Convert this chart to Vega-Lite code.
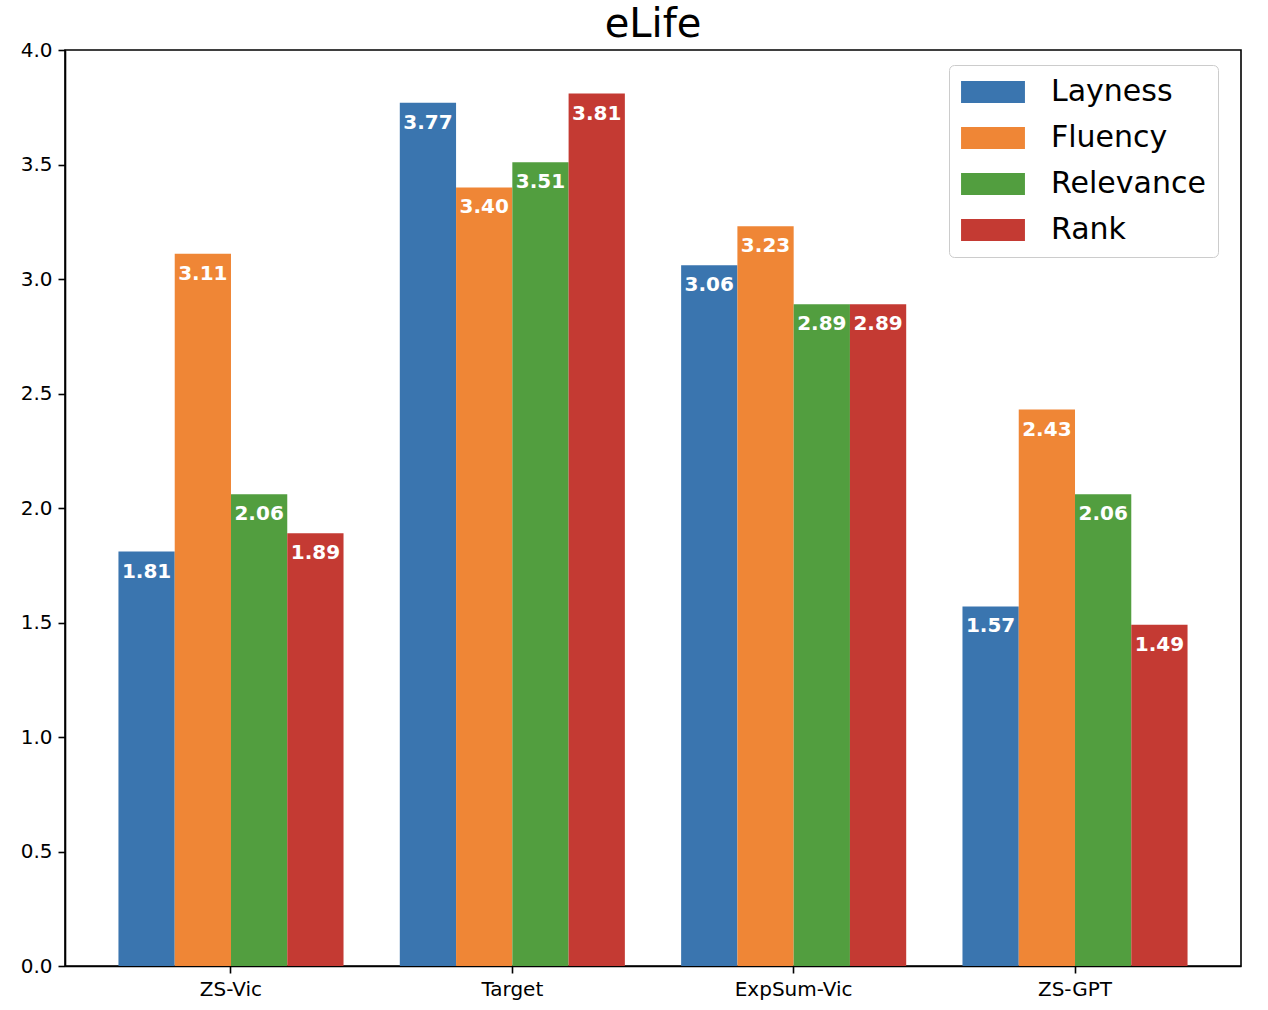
{
  "$schema": "https://vega.github.io/schema/vega-lite/v6.json",
  "autosize": "none",
  "width": 1176,
  "height": 916,
  "padding": {"left": 65, "top": 50, "right": 27, "bottom": 44},
  "background": "white",
  "title": {"text": "eLife", "fontSize": 40, "font": "DejaVu Sans", "fontWeight": "normal", "color": "black", "anchor": "middle", "offset": -5},
  "data": {
    "values": [
      {"model": "ZS-Vic", "metric": "Layness", "score": 1.81},
      {"model": "ZS-Vic", "metric": "Fluency", "score": 3.11},
      {"model": "ZS-Vic", "metric": "Relevance", "score": 2.06},
      {"model": "ZS-Vic", "metric": "Rank", "score": 1.89},
      {"model": "Target", "metric": "Layness", "score": 3.77},
      {"model": "Target", "metric": "Fluency", "score": 3.40},
      {"model": "Target", "metric": "Relevance", "score": 3.51},
      {"model": "Target", "metric": "Rank", "score": 3.81},
      {"model": "ExpSum-Vic", "metric": "Layness", "score": 3.06},
      {"model": "ExpSum-Vic", "metric": "Fluency", "score": 3.23},
      {"model": "ExpSum-Vic", "metric": "Relevance", "score": 2.89},
      {"model": "ExpSum-Vic", "metric": "Rank", "score": 2.89},
      {"model": "ZS-GPT", "metric": "Layness", "score": 1.57},
      {"model": "ZS-GPT", "metric": "Fluency", "score": 2.43},
      {"model": "ZS-GPT", "metric": "Relevance", "score": 2.06},
      {"model": "ZS-GPT", "metric": "Rank", "score": 1.49}
    ]
  },
  "encoding": {
    "x": {
      "field": "model", "type": "nominal", "sort": null, "title": null,
      "scale": {"paddingInner": 0.2, "paddingOuter": 0.19},
      "axis": {"labelAngle": 0, "labelFontSize": 20, "tickSize": 7, "tickWidth": 1.6, "labelPadding": 6, "domainWidth": 1.6}
    },
    "xOffset": {
      "field": "metric", "type": "nominal", "sort": ["Layness", "Fluency", "Relevance", "Rank"],
      "scale": {"paddingInner": 0, "paddingOuter": 0}
    },
    "y": {
      "field": "score", "type": "quantitative", "title": null,
      "scale": {"domain": [0, 4], "nice": false},
      "axis": {"values": [0, 0.5, 1, 1.5, 2, 2.5, 3, 3.5, 4], "format": ".1f", "labelFontSize": 20, "tickSize": 7, "tickWidth": 1.6, "labelPadding": 6, "domainWidth": 1.6, "grid": false}
    }
  },
  "layer": [
    {
      "mark": {"type": "bar"},
      "encoding": {
        "color": {
          "field": "metric", "type": "nominal", "sort": ["Layness", "Fluency", "Relevance", "Rank"],
          "scale": {"domain": ["Layness", "Fluency", "Relevance", "Rank"], "range": ["#3a75af", "#ef8636", "#529e3f", "#c43a33"]},
          "legend": {
            "title": null,
            "orient": "none",
            "legendX": 884,
            "legendY": 15,
            "padding": 12,
            "rowPadding": 16,
            "strokeColor": "#cccccc",
            "cornerRadius": 5,
            "fillColor": "white",
            "symbolType": "M-2.13,-0.733H2.13V0.733H-2.13Z",
            "symbolSize": 900,
            "symbolOffset": 17,
            "symbolStrokeWidth": 0,
            "symbolOpacity": 1,
            "labelFontSize": 30,
            "labelOffset": 43,
            "labelFont": "DejaVu Sans",
            "labelColor": "black",
            "labelLimit": 400
          }
        }
      }
    },
    {
      "mark": {"type": "text", "baseline": "top", "align": "center", "dy": 10, "fontSize": 20, "fontWeight": "bold", "font": "DejaVu Sans", "color": "white"},
      "encoding": {
        "text": {"field": "score", "type": "quantitative", "format": ".2f"}
      }
    }
  ],
  "config": {
    "font": "DejaVu Sans",
    "view": {"stroke": "black", "strokeWidth": 1.6},
    "axis": {"labelFont": "DejaVu Sans", "labelColor": "black", "tickColor": "black", "domainColor": "black"},
    "bar": {"opacity": 1}
  }
}
